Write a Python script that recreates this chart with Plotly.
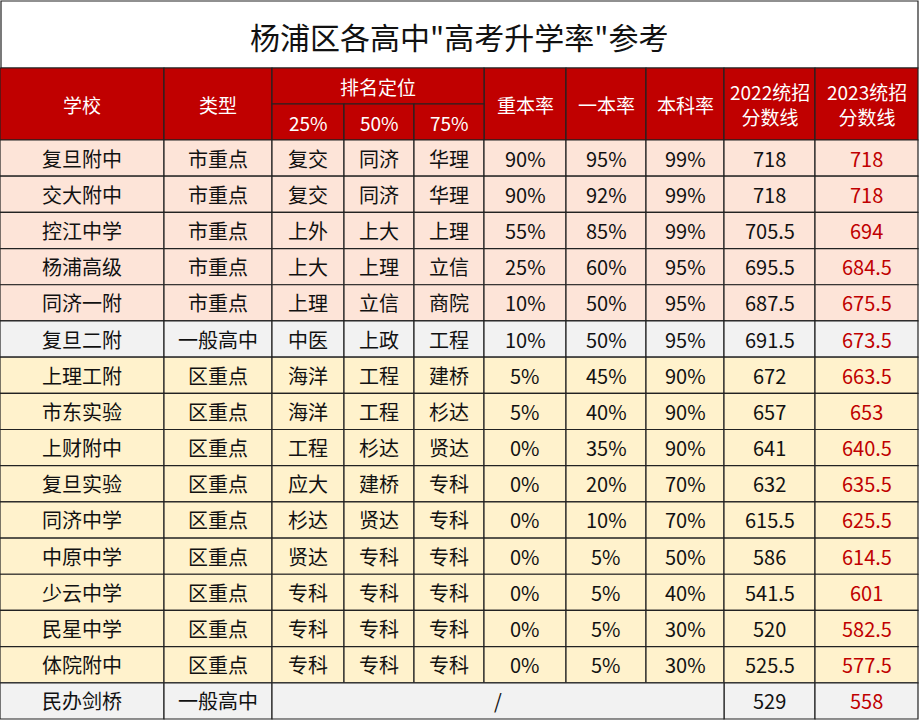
import plotly.graph_objects as go

title = '杨浦区各高中"高考升学率"参考'
schools = ["复旦附中","交大附中","控江中学","杨浦高级","同济一附","复旦二附","上理工附","市东实验","上财附中","复旦实验","同济中学","中原中学","少云中学","民星中学","体院附中","民办剑桥"]
types = ["市重点"]*5 + ["一般高中"] + ["区重点"]*9 + ["一般高中"]
p25 = ["复交","复交","上外","上大","上理","中医","海洋","海洋","工程","应大","杉达","贤达","专科","专科","专科",""]
p50 = ["同济","同济","上大","上理","立信","上政","工程","工程","杉达","建桥","贤达","专科","专科","专科","专科",""]
p75 = ["华理","华理","上理","立信","商院","工程","建桥","杉达","贤达","专科","专科","专科","专科","专科","专科",""]
zb = ["90%","90%","55%","25%","10%","10%","5%","5%","0%","0%","0%","0%","0%","0%","0%",""]
yb = ["95%","92%","85%","60%","50%","50%","45%","40%","35%","20%","10%","5%","5%","5%","5%",""]
bk = ["99%","99%","99%","95%","95%","95%","90%","90%","90%","70%","70%","50%","40%","30%","30%",""]
s2022 = ["718","718","705.5","695.5","687.5","691.5","672","657","641","632","615.5","586","541.5","520","525.5","529"]
s2023 = ["718","718","694","684.5","675.5","673.5","663.5","653","640.5","635.5","625.5","614.5","601","582.5","577.5","558"]

xs = [0,164,272,344,414,484,566,646,724,815,918]
F = "Noto Sans CJK SC"
shapes, ann = [], []
def rect(x0,y0,x1,y1,fill):
    shapes.append(dict(type="rect",x0=x0,y0=y0,x1=x1,y1=y1,fillcolor=fill,line=dict(color="#222",width=1.2),layer="below"))
def txt(x,y,t,color="#111",size=20):
    ann.append(dict(x=x,y=y,text=t,showarrow=False,font=dict(family=F,size=size,color=color),xanchor="center",yanchor="middle"))

rect(1,1,918,68,"white")
txt(459,36,title,size=30)
RED="#C00000"
h0,h1,h2=68,104,140
for i,lab in [(0,"学校"),(1,"类型"),(5,"重本率"),(6,"一本率"),(7,"本科率"),(8,"2022统招<br>分数线"),(9,"2023统招<br>分数线")]:
    rect(xs[i],h0,xs[i+1],h2,RED); txt((xs[i]+xs[i+1])/2,(h0+h2)/2,lab,"white",19)
rect(xs[2],h0,xs[5],h1,RED); txt((xs[2]+xs[5])/2,(h0+h1)/2,"排名定位","white",19)
for i,lab in zip([2,3,4],["25%","50%","75%"]):
    rect(xs[i],h1,xs[i+1],h2,RED); txt((xs[i]+xs[i+1])/2,(h1+h2)/2,lab,"white",19)

rh=(719-h2)/len(schools)
for r in range(len(schools)):
    y0=h2+r*rh; y1=y0+rh; yc=(y0+y1)/2
    fill = "#FDE4D8" if types[r]=="市重点" else ("#FFF2CC" if types[r]=="区重点" else "#F2F2F2")
    cols=[schools[r],types[r],p25[r],p50[r],p75[r],zb[r],yb[r],bk[r],s2022[r],s2023[r]]
    if r==len(schools)-1:
        for i in [0,1,8,9]:
            rect(xs[i],y0,xs[i+1],y1,fill)
            txt((xs[i]+xs[i+1])/2,yc,cols[i],"#C00000" if i==9 else "#111")
        rect(xs[2],y0,xs[8],y1,fill); txt((xs[2]+xs[8])/2,yc,"/")
    else:
        for i in range(10):
            rect(xs[i],y0,xs[i+1],y1,fill)
            txt((xs[i]+xs[i+1])/2,yc,cols[i],"#C00000" if i==9 else "#111")

fig=go.Figure()
fig.update_layout(autosize=True,margin=dict(l=0,r=0,t=0,b=0),plot_bgcolor="white",paper_bgcolor="white",
    shapes=shapes,annotations=ann,showlegend=False,
    xaxis=dict(range=[0,919],visible=False,fixedrange=True),
    yaxis=dict(range=[720,0],visible=False,fixedrange=True))
html = fig.to_html(full_html=True, default_width="100vw", default_height="100vh", config={"responsive": True, "displayModeBar": False})
html = html.replace("<head>", "<head><style>html,body{margin:0;padding:0;overflow:hidden;}</style>", 1)
with open("out.html","w",encoding="utf-8") as f:
    f.write(html)
